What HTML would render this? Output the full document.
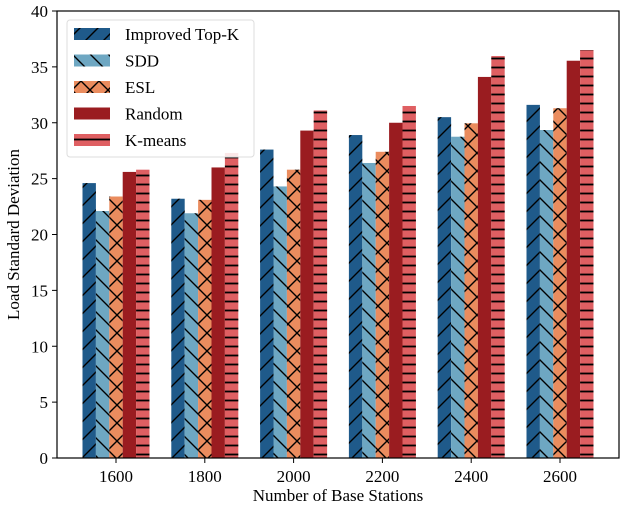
<!DOCTYPE html>
<html><head><meta charset="utf-8"><style>
body{margin:0;background:#fff}
svg text{font-family:"Liberation Serif",serif;fill:#000}
</style></head><body>
<svg id="chart" width="624" height="508" xmlns="http://www.w3.org/2000/svg">
<defs>
<pattern id="h-fwd" patternUnits="userSpaceOnUse" width="18" height="18"><path d="M-1,19 L19,-1 M-5,5 L5,-5 M13,23 L23,13" stroke="#000" stroke-width="1.4"/></pattern>
<pattern id="h-back" patternUnits="userSpaceOnUse" width="18" height="18"><path d="M-1,-1 L19,19 M-5,13 L5,23 M13,-5 L23,5" stroke="#000" stroke-width="1.4"/></pattern>
<pattern id="h-x" patternUnits="userSpaceOnUse" width="18" height="18"><path d="M-1,19 L19,-1 M-5,5 L5,-5 M13,23 L23,13 M-1,-1 L19,19 M-5,13 L5,23 M13,-5 L23,5" stroke="#000" stroke-width="1.4"/></pattern>
<pattern id="h-none" patternUnits="userSpaceOnUse" width="13" height="13"></pattern>
<pattern id="h-horiz" patternUnits="userSpaceOnUse" width="13" height="9"><path d="M0,4.5 L13,4.5" stroke="#000" stroke-width="1.8"/></pattern>
</defs>
<g id="bars"></g>
<g id="axes"></g>
</svg>
<script>
const categories=["1600","1800","2000","2200","2400","2600"];
const seriesNames=["Improved Top-K","SDD","ESL","Random","K-means"];
const improvedTopK=[24.6,23.2,27.6,28.9,30.5,31.6];
const sdd=[22.1,21.9,24.3,26.4,28.75,29.35];
const esl=[23.4,23.1,25.8,27.4,29.95,31.3];
const random=[25.6,26.0,29.3,30.0,34.1,35.55];
const kmeans=[25.8,27.3,31.1,31.5,35.97,36.5];
const yTicks=[0,5,10,15,20,25,30,35,40];

const series=[improvedTopK,sdd,esl,random,kmeans];
const colors=["#1f5a8a","#6ea7c2","#ea8c5e","#9a1c20","#df5f62"];
const hatches=["h-fwd","h-back","h-x","h-none","h-horiz"];
const L=57,R=619,T=11,B=458,ymax=40;
const NS="http://www.w3.org/2000/svg";
const y=v=>B-(v/ymax)*(B-T);
const x=i=>116+i*88.8;
const bw=13.4;
function mk(tag,attrs,parent){const e=document.createElementNS(NS,tag);for(const k in attrs)e.setAttribute(k,attrs[k]);parent.appendChild(e);return e;}
const gb=document.getElementById('bars'),ga=document.getElementById('axes');
series.forEach((s,si)=>{s.forEach((v,ci)=>{
  const x0=x(ci)+(si-2.5)*bw;
  const r=mk('rect',{x:x0,y:y(v),width:bw,height:B-y(v),fill:colors[si]},gb);
  
  
  const h=mk('rect',{x:x0,y:y(v),width:bw,height:B-y(v),fill:'url(#'+hatches[si]+')'},gb);
  
  
});});
const frame=mk('rect',{x:L,y:T,width:R-L,height:B-T,fill:'none',stroke:'#000','stroke-width':1.2},ga);


yTicks.forEach(t=>{
  mk('line',{x1:L-5,x2:L,y1:y(t),y2:y(t),stroke:'#000'},ga);
  const tx=mk('text',{x:L-9,y:y(t)+6,'text-anchor':'end','font-size':17},ga);tx.textContent=t;
  
  
});
categories.forEach((c,i)=>{
  mk('line',{x1:x(i),x2:x(i),y1:B,y2:B+5,stroke:'#000'},ga);
  const tx=mk('text',{x:x(i),y:B+24,'text-anchor':'middle','font-size':17},ga);tx.textContent=c;
  
  
});
const xl=mk('text',{x:(L+R)/2,y:501,'text-anchor':'middle','font-size':17},ga);xl.textContent="Number of Base Stations";


const yl=mk('text',{x:0,y:0,'text-anchor':'middle','font-size':17,transform:'translate(19,'+((T+B)/2)+') rotate(-90)'},ga);yl.textContent="Load Standard Deviation";


const lg=mk('g',{},ga);


mk('rect',{x:67,y:20,width:187,height:137,rx:3,fill:'#fff','fill-opacity':0.85,stroke:'#ddd'},lg);
seriesNames.forEach((n,i)=>{
  const yy=28+i*26.5;
  mk('rect',{x:74,y:yy,width:36,height:12,fill:colors[i]},lg);
  mk('rect',{x:74,y:yy,width:36,height:12,fill:'url(#'+hatches[i]+')'},lg);
  const t=mk('text',{x:125,y:yy+12,'font-size':17},lg);t.textContent=n;
  
  
});
</script>
</body></html>
